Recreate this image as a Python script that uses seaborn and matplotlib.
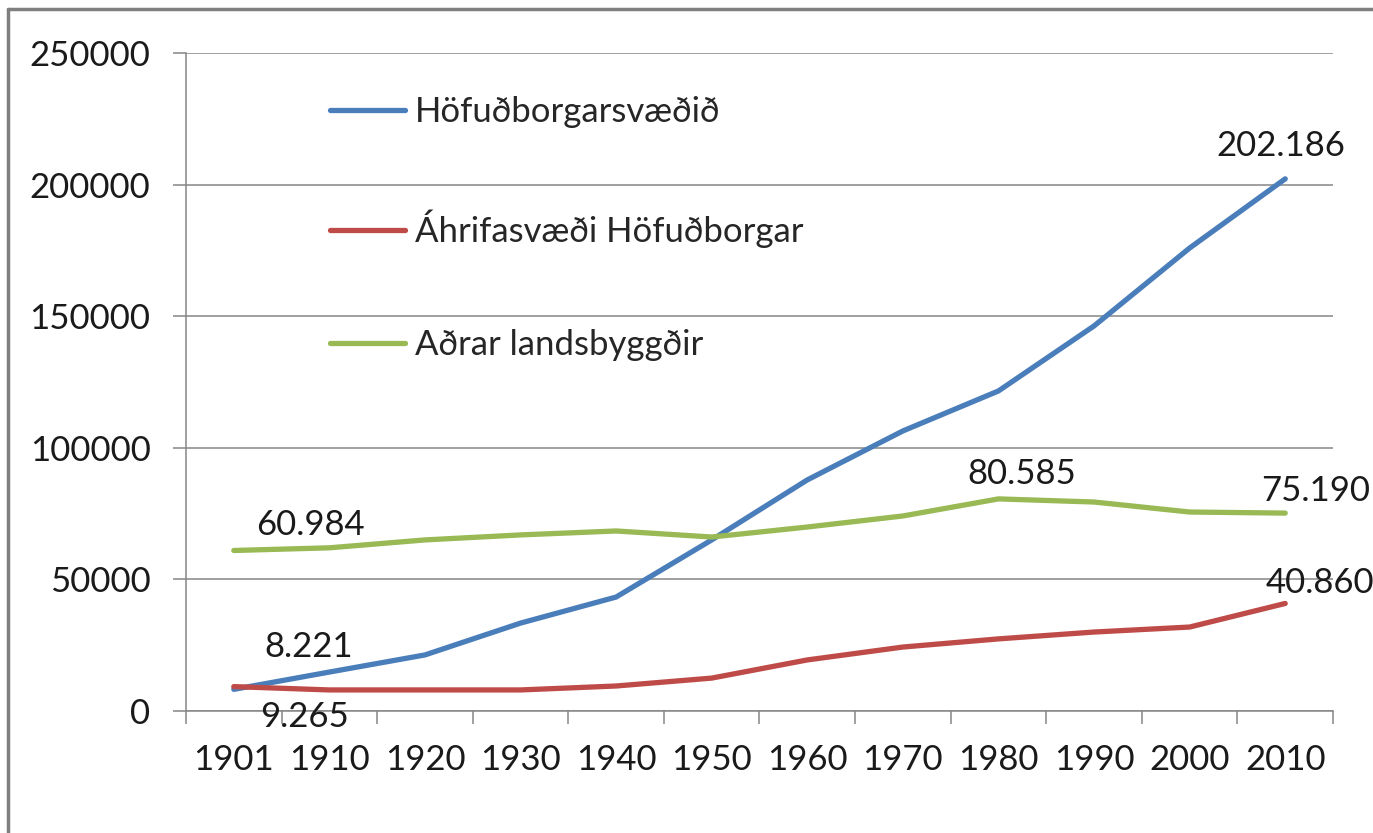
import pandas as pd
import matplotlib.pyplot as plt
import seaborn as sns
from matplotlib.lines import Line2D
from matplotlib.ticker import FixedLocator

# data
years = ["1901", "1910", "1920", "1930", "1940", "1950",
         "1960", "1970", "1980", "1990", "2000", "2010"]
hofudborg = [8221, 14800, 21300, 33400, 43300, 65000,
             87800, 106400, 121600, 146300, 175900, 202186]
ahrifasvaedi = [9265, 8000, 8000, 8000, 9500, 12500,
                19400, 24300, 27400, 30000, 31900, 40860]
landsbyggdir = [60984, 62000, 65000, 66900, 68400, 66100,
                69900, 74100, 80585, 79400, 75600, 75190]
series_names = ["Höfuðborgarsvæðið", "Áhrifasvæði Höfuðborgar", "Aðrar landsbyggðir"]
colors = ["#4A7EBB", "#BE4B48", "#98B954"]

df = pd.DataFrame({
    "year": years * 3,
    "value": hofudborg + ahrifasvaedi + landsbyggdir,
    "series": [n for n in series_names for _ in years],
})

sns.set_style("white")
plt.rcParams["font.family"] = ["Lato", "DejaVu Sans"]
GRID = "#868686"
FS = 25

fig = plt.figure(figsize=(13.73, 8.33), dpi=100)
ax = fig.add_axes([186 / 1373, 1 - 711 / 833, (1333 - 186) / 1373, (711 - 53) / 833])

sns.lineplot(data=df, x="year", y="value", hue="series", palette=colors,
             hue_order=series_names, linewidth=3.8, ax=ax, legend=False,
             solid_capstyle="round")

ax.set_xlim(-0.5, len(years) - 0.5)
ax.set_ylim(0, 250000)
ax.set_yticks(range(0, 250001, 50000))
ax.set_xticks(range(len(years)))
ax.set_xticklabels(years)
ax.xaxis.set_minor_locator(FixedLocator([i - 0.5 for i in range(len(years) + 1)]))
ax.set_xlabel("")
ax.set_ylabel("")

ax.yaxis.grid(True, color=GRID, linewidth=1.1)
ax.xaxis.grid(False)
for s in ["top", "right"]:
    ax.spines[s].set_visible(False)
for s in ["left", "bottom"]:
    ax.spines[s].set_color(GRID)
    ax.spines[s].set_linewidth(1.1)

ax.tick_params(axis="y", which="major", left=True, length=9.5, width=1.1, color=GRID,
               pad=16, labelsize=FS, labelcolor="#1a1a1a")
ax.tick_params(axis="x", which="major", bottom=False, length=0, pad=24,
               labelsize=FS, labelcolor="#1a1a1a")
ax.tick_params(axis="x", which="minor", bottom=True, length=9.5, width=1.1, color=GRID)

# data labels
labels = [
    (hofudborg, 0, (75, 42)),
    (hofudborg, 11, (-4, 33)),
    (ahrifasvaedi, 0, (71, -30)),
    (ahrifasvaedi, 11, (35, 20)),
    (landsbyggdir, 0, (77, 25)),
    (landsbyggdir, 8, (23, 25)),
    (landsbyggdir, 11, (30, 22)),
]
for vals, i, off in labels:
    ax.annotate(f"{vals[i]:,}".replace(",", "."), xy=(i, vals[i]), xytext=off,
                textcoords="offset pixels", ha="center", va="center",
                fontsize=FS, color="#1a1a1a", annotation_clip=False)

handles = [Line2D([], [], color=c, linewidth=3.8, solid_capstyle="round") for c in colors]
fig.legend(handles, series_names, loc="upper left",
           bbox_to_anchor=(330 / 1373, 1 - 96 / 833), bbox_transform=fig.transFigure,
           frameon=False, fontsize=FS, labelspacing=2.34, handlelength=2.15,
           handletextpad=0.3, borderpad=0, borderaxespad=0)

# outer chart frame (only top and left edges visible)
fig.add_artist(Line2D([8 / 1373, 1], [1 - 9 / 833, 1 - 9 / 833], transform=fig.transFigure,
                      color="#7f7f7f", linewidth=2.5))
fig.add_artist(Line2D([8 / 1373, 8 / 1373], [0, 1 - 9 / 833], transform=fig.transFigure,
                      color="#7f7f7f", linewidth=2.5))

fig.savefig("out.png", dpi=100)
